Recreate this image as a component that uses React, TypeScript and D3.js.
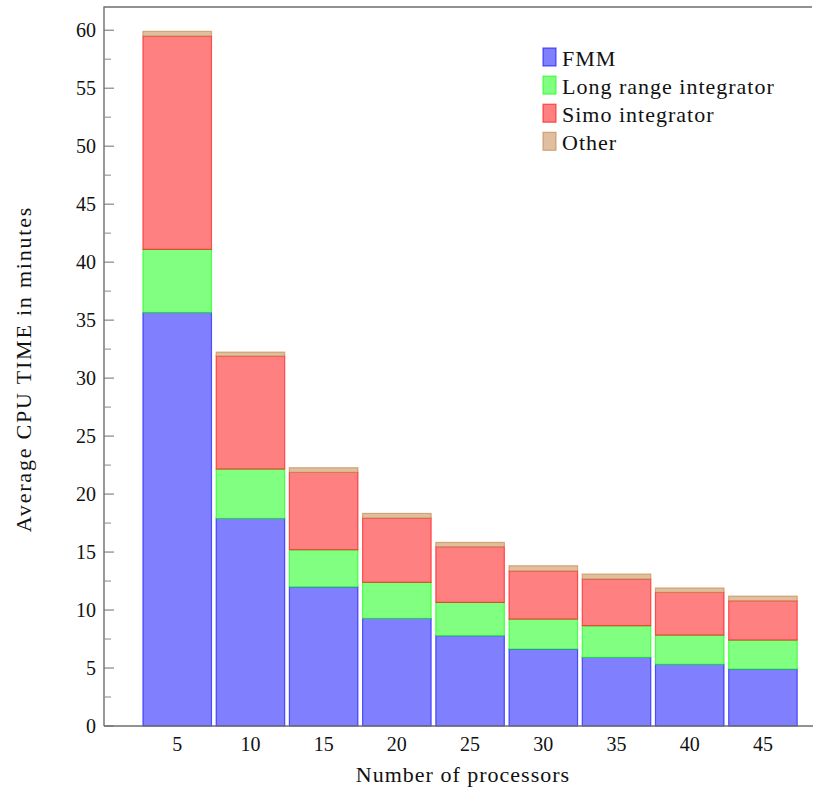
import * as d3 from "d3";

const processors = [5, 10, 15, 20, 25, 30, 35, 40, 45];
const fmm = [35.66, 17.9, 12.0, 9.28, 7.79, 6.64, 5.92, 5.32, 4.91];
const longRange = [5.44, 4.26, 3.2, 3.11, 2.87, 2.58, 2.73, 2.52, 2.5];
const simo = [18.4, 9.74, 6.67, 5.54, 4.8, 4.15, 4.02, 3.68, 3.39];
const other = [0.4, 0.34, 0.4, 0.4, 0.37, 0.45, 0.43, 0.38, 0.4];

const seriesNames = ["FMM", "Long range integrator", "Simo integrator", "Other"];
const fills = ["#8080ff", "#80ff80", "#ff8080", "#dfbf9f"];
const strokes = ["#0000ff", "#00ff00", "#ff0000", "#bf8040"];
const yTicks = [0, 5, 10, 15, 20, 25, 30, 35, 40, 45, 50, 55, 60];

const width = 813;
const height = 789;
const left = 104;
const right = 812;
const top = 7;
const bottom = 726;
const font = "'Liberation Serif', 'DejaVu Serif', serif";

export default function App() {
  const rows = processors.map((p, i) => ({
    p,
    "FMM": fmm[i],
    "Long range integrator": longRange[i],
    "Simo integrator": simo[i],
    "Other": other[i],
  }));
  const stacked = d3.stack<any>().keys(seriesNames)(rows);

  const x = d3.scaleLinear().domain([0, 48.35]).range([left, right]);
  const y = d3.scaleLinear().domain([0, 62]).range([bottom, top]);
  const barW = x(4.68) - x(0);

  const minor = d3.range(2.5, 62, 5);

  return (
    <svg
      width={width}
      height={height}
      style={{ position: "absolute", left: 0, top: 0, background: "#fff" }}
      fontFamily={font}
    >
      {stacked.map((s, si) => (
        <g key={s.key}>
          {s.map((d, i) => (
            <rect
              key={i}
              x={x(processors[i]) - barW / 2}
              y={y(d[1])}
              width={barW}
              height={y(d[0]) - y(d[1])}
              fill={fills[si]}
              stroke={strokes[si]}
              strokeOpacity={0.6}
              strokeWidth={1.2}
            />
          ))}
        </g>
      ))}

      {/* axis frame */}
      <path
        d={`M${left},${bottom}V${top}H${right}`}
        fill="none"
        stroke="#6e6e6e"
        strokeWidth={1.4}
      />
      <line x1={left} x2={right + 1} y1={bottom} y2={bottom} stroke="#6e6e6e" strokeWidth={1.4} />

      {yTicks.map((t) => (
        <g key={t}>
          <line x1={left} x2={left + 10} y1={y(t)} y2={y(t)} stroke="#6e6e6e" strokeWidth={1} />
          <text
            x={left - 8}
            y={y(t)}
            dy="0.35em"
            textAnchor="end"
            fontSize={20}
            fill="#111"
          >
            {t}
          </text>
        </g>
      ))}
      {minor.map((t) => (
        <line key={t} x1={left} x2={left + 7} y1={y(t)} y2={y(t)} stroke="#8a8a8a" strokeWidth={1} />
      ))}

      {processors.map((p) => (
        <text key={p} x={x(p)} y={751} textAnchor="middle" fontSize={20} fill="#111">
          {p}
        </text>
      ))}

      <text x={463} y={782} textAnchor="middle" fontSize={22} letterSpacing={1} fill="#111">
        Number of processors
      </text>
      <text
        transform={`translate(31, 369) rotate(-90)`}
        textAnchor="middle"
        fontSize={22}
        letterSpacing={1.8}
        fill="#111"
      >
        Average CPU TIME in minutes
      </text>

      {/* legend */}
      <g transform="translate(543, 48)">
        {seriesNames.map((name, i) => (
          <g key={name} transform={`translate(0, ${i * 28.1})`}>
            <rect
              width={13}
              height={18}
              fill={fills[i]}
              stroke={strokes[i]}
              strokeOpacity={0.6}
              strokeWidth={1.2}
            />
            <text x={19} y={18} fontSize={22} letterSpacing={1} fill="#111">
              {name}
            </text>
          </g>
        ))}
      </g>
    </svg>
  );
}
